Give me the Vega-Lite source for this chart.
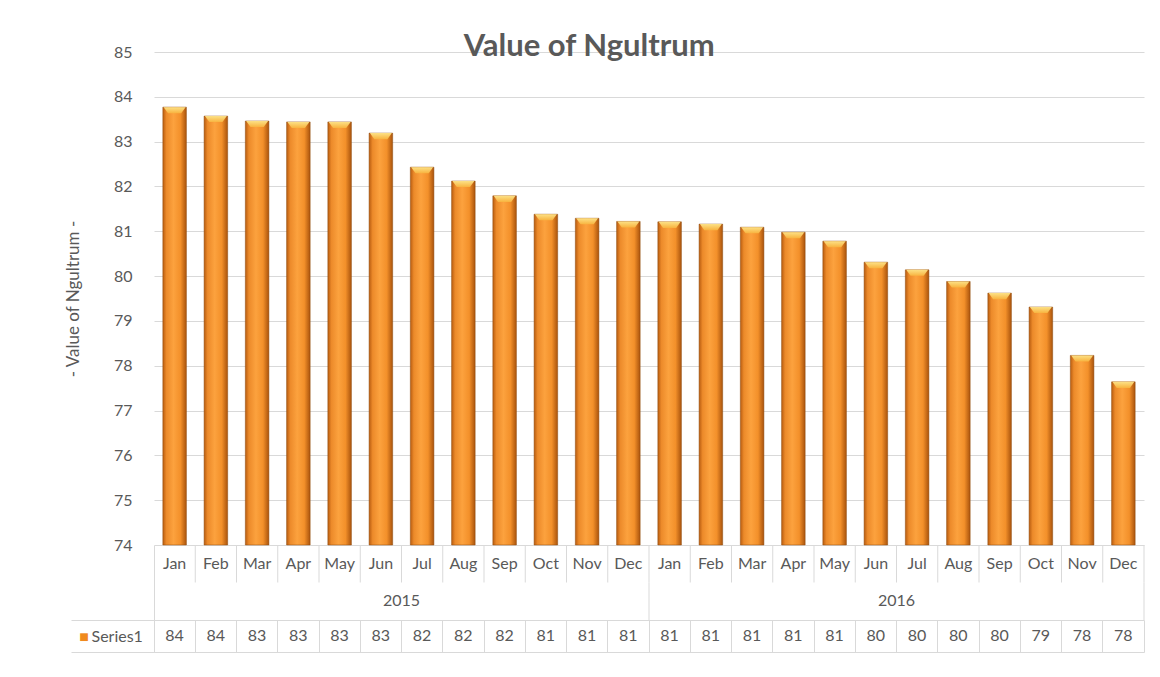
{
  "$schema": "https://vega.github.io/schema/vega-lite/v6.json",
  "padding": {"left": 64, "top": 31, "right": 15, "bottom": 25},
  "background": "white",
  "bounds": "flush",
  "config": {
    "view": {"stroke": null},
    "font": "Lato",
    "text": {"font": "Lato", "fontSize": 16, "color": "#595959"}
  },
  "spacing": 0,
  "data": {
    "values": [
      {"key": "2015-Jan", "year": "2015", "month": "Jan", "value": 83.77},
      {"key": "2015-Feb", "year": "2015", "month": "Feb", "value": 83.57},
      {"key": "2015-Mar", "year": "2015", "month": "Mar", "value": 83.46},
      {"key": "2015-Apr", "year": "2015", "month": "Apr", "value": 83.44},
      {"key": "2015-May", "year": "2015", "month": "May", "value": 83.44},
      {"key": "2015-Jun", "year": "2015", "month": "Jun", "value": 83.19},
      {"key": "2015-Jul", "year": "2015", "month": "Jul", "value": 82.43},
      {"key": "2015-Aug", "year": "2015", "month": "Aug", "value": 82.12},
      {"key": "2015-Sep", "year": "2015", "month": "Sep", "value": 81.79},
      {"key": "2015-Oct", "year": "2015", "month": "Oct", "value": 81.38},
      {"key": "2015-Nov", "year": "2015", "month": "Nov", "value": 81.29},
      {"key": "2015-Dec", "year": "2015", "month": "Dec", "value": 81.22},
      {"key": "2016-Jan", "year": "2016", "month": "Jan", "value": 81.21},
      {"key": "2016-Feb", "year": "2016", "month": "Feb", "value": 81.16},
      {"key": "2016-Mar", "year": "2016", "month": "Mar", "value": 81.09},
      {"key": "2016-Apr", "year": "2016", "month": "Apr", "value": 80.98},
      {"key": "2016-May", "year": "2016", "month": "May", "value": 80.78},
      {"key": "2016-Jun", "year": "2016", "month": "Jun", "value": 80.31},
      {"key": "2016-Jul", "year": "2016", "month": "Jul", "value": 80.14},
      {"key": "2016-Aug", "year": "2016", "month": "Aug", "value": 79.88},
      {"key": "2016-Sep", "year": "2016", "month": "Sep", "value": 79.62},
      {"key": "2016-Oct", "year": "2016", "month": "Oct", "value": 79.31},
      {"key": "2016-Nov", "year": "2016", "month": "Nov", "value": 78.23},
      {"key": "2016-Dec", "year": "2016", "month": "Dec", "value": 77.64}
    ]
  },
  "vconcat": [
    {
      "width": 990,
      "height": 493,
      "title": {
        "text": "Value of Ngultrum",
        "font": "Lato",
        "fontSize": 31,
        "fontWeight": "bold",
        "color": "#595959",
        "anchor": "middle",
        "frame": "bounds",
        "offset": -19,
        "dx": -15
      },
      "encoding": {
        "x": {
          "field": "key",
          "type": "nominal",
          "sort": null,
          "scale": {"type": "band", "paddingInner": 0.4286, "paddingOuter": 0.2143},
          "axis": null
        },
        "y": {
          "field": "value",
          "type": "quantitative",
          "scale": {"domain": [74, 85], "zero": false, "nice": false},
          "axis": {
            "values": [74, 75, 76, 77, 78, 79, 80, 81, 82, 83, 84, 85],
            "title": "- Value of Ngultrum -",
            "titleFont": "Lato",
            "titleFontSize": 17,
            "titleFontWeight": "normal",
            "titleColor": "#595959",
            "titlePadding": 31,
            "labelFont": "Lato",
            "labelFontSize": 16,
            "labelColor": "#595959",
            "labelPadding": 22,
            "ticks": false,
            "domain": false,
            "grid": true,
            "gridColor": "#d9d9d9"
          }
        }
      },
      "layer": [
        {
          "mark": {
            "type": "bar",
            "fill": {
              "gradient": "linear",
              "x1": 0, "y1": 0, "x2": 1, "y2": 0,
              "stops": [
                {"offset": 0, "color": "#b85c10"},
                {"offset": 0.15, "color": "#ec8a2a"},
                {"offset": 0.45, "color": "#fca23e"},
                {"offset": 0.75, "color": "#f3902a"},
                {"offset": 1, "color": "#a9530c"}
              ]
            },
            "stroke": "#8f4a0c",
            "strokeWidth": 0.5
          },
          "encoding": {
            "y2": {"datum": 74}
          }
        },
        {
          "mark": {
            "type": "point",
            "shape": "M-1,0 L1,0 L0.6,0.55 L-0.6,0.55 Z",
            "size": 480,
            "filled": true,
            "fill": {
              "gradient": "linear",
              "x1": 0, "y1": 0, "x2": 0, "y2": 1,
              "stops": [
                {"offset": 0, "color": "#fde58a"},
                {"offset": 1, "color": "#f8b540"}
              ]
            },
            "opacity": 0.95,
            "strokeWidth": 0
          },
          "encoding": {}
        }
      ]
    },
    {
      "width": 990,
      "height": 75,
      "resolve": {"scale": {"x": "independent"}},
      "layer": [
        {
          "mark": {"type": "rule", "color": "#d9d9d9"},
          "encoding": {
            "x": {"field": "key", "type": "nominal", "sort": null, "bandPosition": 1,
                  "scale": {"type": "band", "paddingInner": 0, "paddingOuter": 0}, "axis": null},
            "y": {"datum": 1, "type": "quantitative", "scale": {"domain": [0, 2], "nice": false, "zero": false},
                  "axis": {"domain": true, "domainColor": "#d9d9d9", "labels": false, "ticks": false, "grid": false, "title": null}},
            "y2": {"datum": 2}
          }
        },
        {
          "mark": {"type": "rule", "color": "#d9d9d9"},
          "encoding": {
            "x": {"field": "key", "type": "nominal", "sort": null, "bandPosition": 1,
                  "scale": {"type": "band", "paddingInner": 0, "paddingOuter": 0}, "axis": null},
            "y": {"datum": 0, "type": "quantitative"},
            "y2": {"datum": 1},
            "strokeOpacity": {"condition": {"test": "datum.month === 'Dec'", "value": 1}, "value": 0}
          }
        },
        {
          "mark": {"type": "text", "baseline": "middle", "align": "center"},
          "encoding": {
            "x": {"field": "key", "type": "nominal", "sort": null,
                  "scale": {"type": "band", "paddingInner": 0, "paddingOuter": 0}, "axis": null},
            "y": {"datum": 1.5, "type": "quantitative"},
            "text": {"field": "month"}
          }
        },
        {
          "transform": [{"aggregate": [], "groupby": ["year"]}],
          "mark": {"type": "text", "baseline": "middle", "align": "center"},
          "encoding": {
            "x": {"field": "year", "type": "nominal", "sort": null,
                  "scale": {"type": "band", "paddingInner": 0, "paddingOuter": 0}, "axis": null},
            "y": {"datum": 0.5, "type": "quantitative"},
            "text": {"field": "year"}
          }
        }
      ]
    },
    {
      "width": 990,
      "height": 32,
      "view": {"stroke": "#d9d9d9"},
      "mark": {"type": "text", "baseline": "middle", "align": "center"},
      "encoding": {
        "x": {
          "field": "key", "type": "nominal", "sort": null,
          "scale": {"type": "band", "paddingInner": 0, "paddingOuter": 0},
          "axis": {"grid": true, "bandPosition": 0, "gridColor": "#d9d9d9", "labels": false, "ticks": false, "domain": false, "title": null}
        },
        "y": {
          "datum": 0.5, "type": "quantitative",
          "scale": {"domain": [0, 1], "nice": false, "zero": false},
          "axis": {
            "values": [0, 0.5, 1],
            "labelExpr": "datum.value == 0.5 ? 'Series1' : ''",
            "labelFont": "Lato",
            "labelFontSize": 16,
            "labelColor": "#595959",
            "labelAlign": "left",
            "labelBaseline": "middle",
            "labelPadding": -20,
            "tickSize": 83,
            "tickColor": {"condition": {"test": "datum.value == 0.5", "value": "transparent"}, "value": "#d9d9d9"},
            "domainColor": "#d9d9d9",
            "grid": false,
            "title": "■",
            "titleColor": "#f08a1e",
            "titleFontSize": 16,
            "titleFontWeight": "normal",
            "titleAngle": 0,
            "titleAlign": "right",
            "titleBaseline": "middle",
            "titlePadding": -18
          }
        },
        "text": {"field": "value", "format": ".0f"}
      }
    }
  ]
}
